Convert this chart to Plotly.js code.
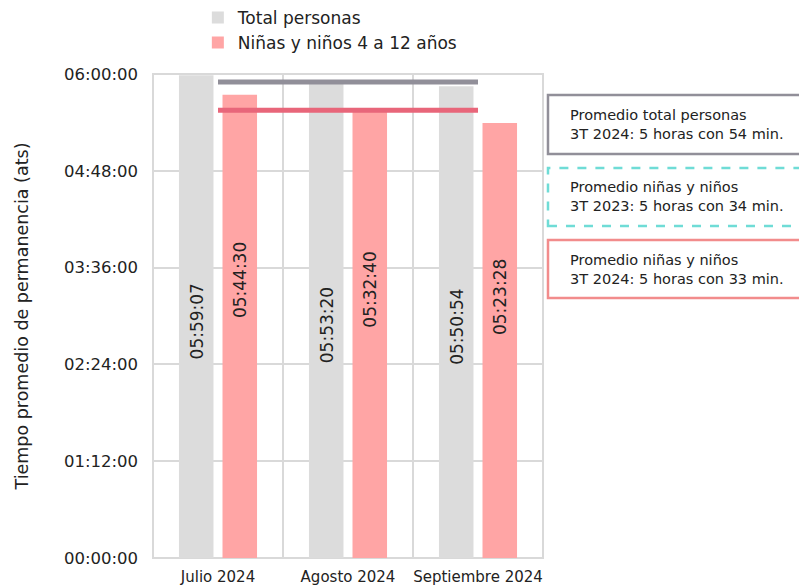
<!DOCTYPE html>
<html><head><meta charset="utf-8">
<script src="https://cdn.plot.ly/plotly-3.0.1.min.js"></script>
<style>html,body{margin:0;padding:0;background:#fff}#c{width:799px;height:587px}</style>
</head><body><div id="c"></div>
<script>
const categories = ['Julio 2024', 'Agosto 2024', 'Septiembre 2024'];
const totalLabels = ['05:59:07', '05:53:20', '05:50:54'];
const ninosLabels = ['05:44:30', '05:32:40', '05:23:28'];
const avgTotal = '05:54:00';
const avgNinos = '05:33:00';
const yTickLabels = ['00:00:00', '01:12:00', '02:24:00', '03:36:00', '04:48:00', '06:00:00'];
const seriesNames = ['Total personas', 'Niñas y niños 4 a 12 años'];
const boxTexts = [
  'Promedio total personas<br>3T 2024: 5 horas con 54 min.',
  'Promedio niñas y niños<br>3T 2023: 5 horas con 34 min.',
  'Promedio niñas y niños<br>3T 2024: 5 horas con 33 min.'
];

const toSec = s => { const p = s.split(':').map(Number); return p[0]*3600 + p[1]*60 + p[2]; };
const totalVals = totalLabels.map(toSec);
const ninosVals = ninosLabels.map(toSec);
const yTickVals = yTickLabels.map(toSec);

const FONT = 'DejaVu Sans, sans-serif';
const GRAY = '#dcdcdc', PINK = '#ffa5a5', LGRAY = '#918f99', LPINK = '#e8667a', TEAL = '#6fdcd6';

const traces = [
  {type:'bar', name: seriesNames[0], x: categories, y: totalVals, marker:{color:GRAY}, hoverinfo:'skip'},
  {type:'bar', name: seriesNames[1], x: categories, y: ninosVals, marker:{color:PINK}, hoverinfo:'skip'},
  {type:'scatter', mode:'lines', x:[categories[0], categories[2]], y:[toSec(avgTotal), toSec(avgTotal)],
   line:{color:LGRAY, width:5}, showlegend:false, hoverinfo:'skip'},
  {type:'scatter', mode:'lines', x:[categories[0], categories[2]], y:[toSec(avgNinos), toSec(avgNinos)],
   line:{color:LPINK, width:5}, showlegend:false, hoverinfo:'skip'}
];

const annotations = [];
categories.forEach((c, i) => {
  annotations.push({x:c, y:totalVals[i]*0.49, xref:'x', yref:'y', text:totalLabels[i], textangle:-90,
    showarrow:false, xshift:-21, font:{family:FONT, size:17, color:'#222'}});
  annotations.push({x:c, y:ninosVals[i]*0.6, xref:'x', yref:'y', text:ninosLabels[i], textangle:-90,
    showarrow:false, xshift:22, font:{family:FONT, size:17, color:'#222'}});
});
const boxY = [0.8956, 0.746, 0.597];
boxTexts.forEach((t, i) => {
  annotations.push({x:1.064, y:boxY[i], xref:'paper', yref:'paper', xanchor:'left', yanchor:'middle',
    align:'left', text:t, showarrow:false, font:{family:FONT, size:14.5, color:'#222'}});
});

const shapes = [
  {type:'line', xref:'x', yref:'paper', x0:0.5, x1:0.5, y0:0, y1:1, line:{color:'#d9d9d9', width:2}, layer:'below'},
  {type:'line', xref:'x', yref:'paper', x0:1.5, x1:1.5, y0:0, y1:1, line:{color:'#d9d9d9', width:2}, layer:'below'},
  {type:'rect', xref:'paper', yref:'paper', x0:0, x1:1, y0:0, y1:1, line:{color:'#d9d9d9', width:2}, layer:'below'},
  {type:'rect', xref:'paper', yref:'paper', x0:1.0128, x1:1.68, y0:0.8347, y1:0.9566, line:{color:LGRAY, width:2.5}, fillcolor:'rgba(0,0,0,0)'},
  {type:'rect', xref:'paper', yref:'paper', x0:1.0128, x1:1.68, y0:0.686, y1:0.8058, line:{color:TEAL, width:2.5, dash:'dash'}, fillcolor:'rgba(0,0,0,0)'},
  {type:'rect', xref:'paper', yref:'paper', x0:1.0128, x1:1.68, y0:0.537, y1:0.657, line:{color:'#f28c8c', width:2.5}, fillcolor:'rgba(0,0,0,0)'}
];

const layout = {
  width:799, height:587,
  margin:{l:153, r:256, t:74, b:29, autoexpand:false},
  paper_bgcolor:'#fff', plot_bgcolor:'#fff',
  barmode:'group', bargap:0.33, bargroupgap:0.207,
  font:{family:FONT, color:'#222'},
  xaxis:{type:'category', range:[-0.5, 2.5], showgrid:false, zeroline:false, showline:false, ticks:'',
    ticklabelstandoff:8, tickfont:{family:FONT, size:15, color:'#222'}, fixedrange:true},
  yaxis:{range:[0, 21600], tickvals:yTickVals, ticktext:yTickLabels, showgrid:true, gridcolor:'#d9d9d9', gridwidth:2,
    zeroline:false, showline:false, ticks:'', ticklabelstandoff:14, tickfont:{family:FONT, size:16.5, color:'#222'},
    title:{text:'Tiempo promedio de permanencia (ats)', font:{family:FONT, size:17.5, color:'#222'}, standoff:30}, fixedrange:true},
  legend:{orientation:'v', x:0.115, y:1.153, xanchor:'left', yanchor:'top', bgcolor:'rgba(0,0,0,0)',
    font:{family:FONT, size:17, color:'#222'}, itemwidth:30, tracegroupgap:0},
  showlegend:true,
  annotations: annotations,
  shapes: shapes
};

Plotly.newPlot('c', traces, layout, {displayModeBar:false, staticPlot:true});
</script></body></html>
